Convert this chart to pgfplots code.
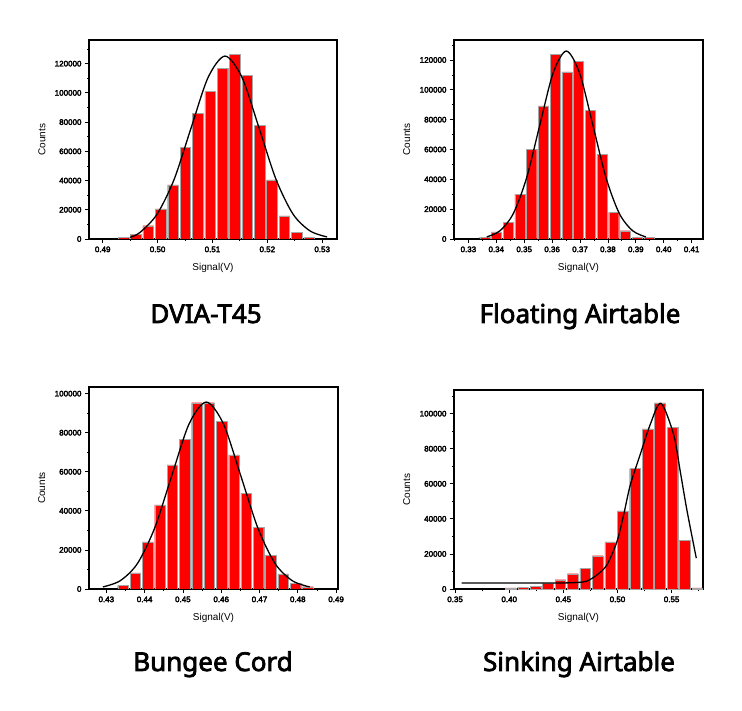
\documentclass[border=0pt]{standalone}
\usepackage{fontspec}
\setmainfont{Liberation Sans}
\newfontfamily\boldsans{Liberation Sans}[FakeBold=3.5]
\newfontfamily\titlefont{Noto Sans}[FakeBold=2.8]
\usepackage{pgfplots}
\pgfplotsset{compat=1.18}

\pgfplotsset{
  histo/.style={
    scale only axis,
    anchor=south west,
    axis line style={black, line width=1.1pt},
    tick align=outside,
    xtick pos=left, ytick pos=left,
    minor tick num=1,
    major tick length=4pt, minor tick length=2pt,
    tick style={black, line width=0.8pt},
    ymin=0,
    scaled ticks=false,
    /pgf/number format/assume math mode=true,
    tick label style={font=\boldsans\fontsize{8}{9}\selectfont},
    yticklabel style={/pgf/number format/.cd, fixed, set thousands separator={}},
    xticklabel style={/pgf/number format/.cd, fixed, fixed zerofill, precision=2},
    xlabel={Signal(V)}, ylabel={Counts},
    label style={font=\boldsans\fontsize{11}{12}\selectfont},
    every axis x label/.style={at={(axis description cs:0.5,-0.145)}, anchor=center},
    every axis y label/.style={at={(axis description cs:-0.19,0.5)}, rotate=90, anchor=center},
  },
  bars/.style={ybar, fill=red, draw=black!35, line width=0.25pt},
  fit/.style={black, line width=1.3pt, smooth, mark=none},
}

\begin{document}
\begin{tikzpicture}
\path[use as bounding box] (0,0) rectangle (742pt,710pt);

% DVIA-T45
\begin{axis}[histo, at={(89pt,471pt)}, width=248pt, height=199pt,
  xmin=0.4875, xmax=0.5327, xtick distance=0.01,
  ymax=136200, ytick distance=20000]
\addplot[bars, bar width=0.00192] coordinates {
  (0.49377,1100)(0.49603,3200)(0.49828,9100)(0.50054,20700)
  (0.50279,37100)(0.50505,62800)(0.50730,86000)(0.50956,101000)
  (0.51181,117000)(0.51407,126400)(0.51632,112000)(0.51858,77600)
  (0.52083,40500)(0.52309,15900)(0.52534,4500)(0.52760,1300)};
\addplot[fit] coordinates {
  (0.4950,1200)(0.4968,4500)(0.4999,16940)(0.5030,40650)(0.5061,75930)
  (0.5092,110490)(0.5123,125200)(0.5154,110490)(0.5185,75930)
  (0.5216,40650)(0.5247,16940)(0.5278,5500)(0.5309,1390)};
\end{axis}

% Floating Airtable
\begin{axis}[histo, at={(454pt,471pt)}, width=249pt, height=199pt,
  xmin=0.32485, xmax=0.41407, xtick distance=0.01,
  ymax=133400, ytick distance=20000]
\addplot[bars, bar width=0.0036] coordinates {
  (0.33587,1300)(0.34007,4700)(0.34427,11200)(0.34847,30100)
  (0.35267,60200)(0.35687,89200)(0.36107,123600)(0.36527,112000)
  (0.36947,119100)(0.37367,86300)(0.37787,56700)(0.38207,17800)
  (0.38627,5600)(0.39047,1100)(0.39467,1100)};
\addplot[fit] coordinates {
  (0.3366,1400)(0.34135,5530)(0.3461,17050)(0.35085,40910)(0.3556,76420)
  (0.36035,111200)(0.3651,126000)(0.36985,111200)(0.3746,76420)
  (0.37935,40910)(0.3841,17050)(0.38885,5530)(0.3936,1400)};
\end{axis}

% Bungee Cord
\begin{axis}[histo, at={(89pt,121pt)}, width=249pt, height=202pt,
  xmin=0.42548, xmax=0.4905, xtick distance=0.01,
  ymax=103400, ytick distance=20000]
\addplot[bars, bar width=0.00274] coordinates {
  (0.43435,1900)(0.43757,8200)(0.44079,24100)(0.44400,43000)
  (0.44722,63500)(0.45044,76500)(0.45366,95400)(0.45687,95400)
  (0.46009,85800)(0.46331,68600)(0.46652,49100)(0.46974,31600)
  (0.47296,17100)(0.47618,7700)(0.47939,2900)(0.48261,1200)};
\addplot[fit] coordinates {
  (0.4291,1060)(0.4336,4200)(0.4381,12950)(0.4426,31070)(0.4471,58040)
  (0.4516,84450)(0.4561,95700)(0.4606,84450)(0.4651,58040)
  (0.4696,31070)(0.4741,12950)(0.4786,4200)(0.4831,1060)};
\end{axis}

% Sinking Airtable
\begin{axis}[histo, at={(454pt,121pt)}, width=249pt, height=199pt,
  xmin=0.349, xmax=0.579, xtick distance=0.05,
  ymax=113500, ytick distance=20000]
\addplot[bars, bar width=0.0098] coordinates {
  (0.4012,600)(0.4127,1100)(0.4242,1500)(0.4357,3400)
  (0.4472,5300)(0.4587,8700)(0.4702,11800)(0.4817,19000)
  (0.4932,26900)(0.5047,44600)(0.5162,68700)(0.5277,91300)
  (0.5392,106100)(0.5507,92200)(0.5622,27700)(0.5737,700)};
\addplot[fit, tension=0.5] coordinates {
  (0.3561,3400)(0.4131,3400)(0.4440,3400)(0.4625,3700)(0.4717,4500)
  (0.4810,8000)(0.4902,13700)(0.4995,27000)(0.5056,42000)(0.5118,59200)
  (0.5210,76700)(0.5303,93900)(0.5401,105900)(0.5519,88000)
  (0.5580,67000)(0.5642,44800)(0.5728,17600)};
\end{axis}

\begin{scope}[every node/.style={font=\titlefont\fontsize{26}{30}\selectfont, anchor=base, inner sep=0pt}]
\node at (206pt,387pt) {DVIA-T45};
\node at (580pt,387pt) {Floating Airtable};
\node at (213pt,39pt) {Bungee Cord};
\node at (579pt,39pt) {Sinking Airtable};
\end{scope}
\end{tikzpicture}
\end{document}
